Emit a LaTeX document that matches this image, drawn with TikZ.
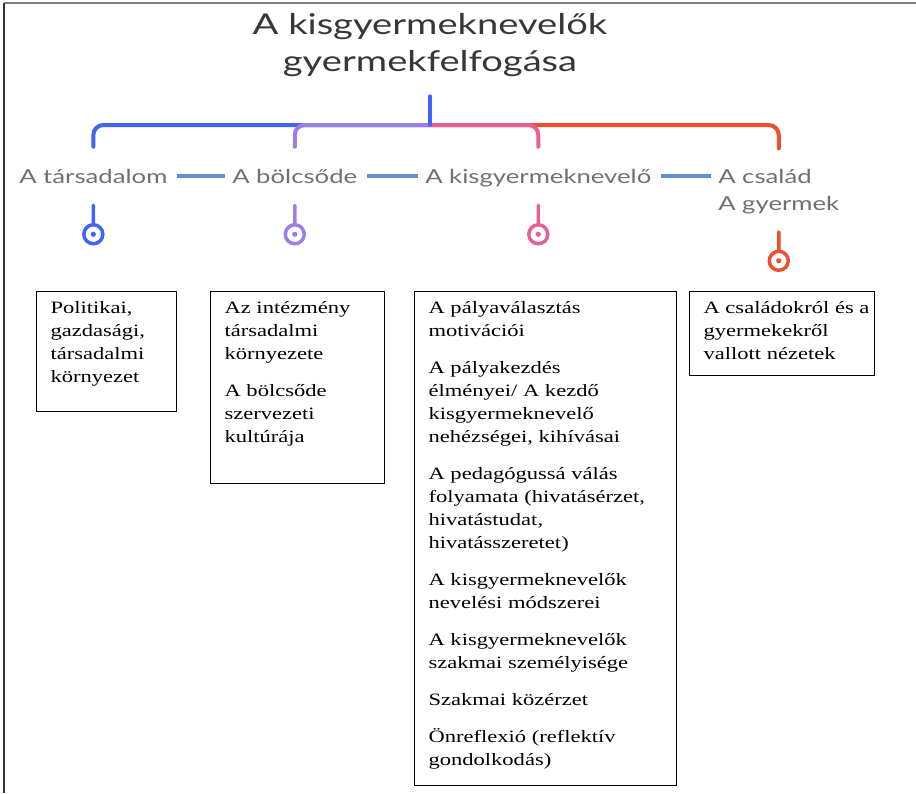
\documentclass[tikz,border=0pt]{standalone}
\usepackage{fontspec}
\setmainfont{Liberation Serif}
\newfontfamily\boxfont[FakeStretch=1.30]{Liberation Serif}
\newfontfamily\headfont[FakeStretch=1.33]{Lato}

\definecolor{treeblue}{RGB}{64,100,245}
\definecolor{treepurple}{RGB}{155,125,235}
\definecolor{treepink}{RGB}{230,95,150}
\definecolor{treered}{RGB}{238,80,45}
\definecolor{linkblue}{RGB}{98,143,208}
\definecolor{labelgray}{RGB}{112,112,112}
\definecolor{titlegray}{RGB}{55,55,55}

\newcommand{\boxcell}[3]{\parbox[t][#2][t]{#1}{\begin{tabular}[t]{@{}l@{}}#3\end{tabular}}}

\tikzset{
  branch/.style={line width=3pt, line cap=round, rounded corners=7.5pt, shorten >=13.5pt},
  trunk/.style={line width=2.4pt, line cap=round, treeblue},
  link/.style={line width=3pt, linkblue, shorten <=7pt, shorten >=5pt},
  topic/.style={font=\headfont\fontsize{14.5}{20}\selectfont, text=labelgray, inner sep=0pt, anchor=base west, text height=13.5pt, text depth=3pt},
  pinstem/.style={line width=2.6pt, line cap=round},
  box/.style={draw, line width=0.9pt, anchor=north west, inner xsep=10.5pt, inner ysep=4.5pt, font=\boxfont\fontsize{13}{17.25}\selectfont},
}

\begin{document}
\begin{tikzpicture}[x=0.75pt,y=0.75pt,yscale=-1,xscale=1]
\useasboundingbox (0,0) rectangle (916,793);

%Frame
\draw [color=gray, line width=1.5pt] (4,3) -- (916,3) ;
\draw [color=black!80, line width=1.5pt] (4,3) -- (4,793) ;

% Text Node
\node (title) [font=\headfont\fontsize{21.5}{27.75}\selectfont, text=titlegray, align=center, inner sep=0pt] at (430,45) {A kisgyermeknevelők\\gyermekfelfogása};

% Text Node
\node (tars) [topic] at (19,183) {A társadalom};
\node (bolcs) [topic] at (232,183) {A bölcsőde};
\node (kisgy) [topic] at (425,183) {A kisgyermeknevelő};
\node (csal) [font=\headfont\fontsize{14.5}{20.25}\selectfont, text=labelgray, inner sep=0pt, anchor=base west, align=left] at (718,210) {A család\\A gyermek};

%Curve Lines
\coordinate (hub) at (430,125);
\draw [branch, treeblue] (hub) -| (tars.north) ;
\draw [branch, treered, shorten >=15pt] (hub) -| (csal.north) ;
\draw [branch, treepurple] (hub) -| (bolcs.north) ;
\draw [branch, treepink] (hub) -| (kisgy.north) ;
\draw [trunk] (title.south) ++(0,19) -- (hub) ;

%Straight Lines
\draw [link] (tars.east) -- (bolcs.west) ;
\draw [link] (bolcs.east) -- (kisgy.west) ;
\draw [link] (kisgy.east) -- (kisgy.east -| csal.west) ;

%Pins
\foreach \lab/\col in {tars/treeblue, bolcs/treepurple, kisgy/treepink, csal/treered} {
  \draw [pinstem, \col] (\lab.south) ++(0,18) -- ++(0,18) ++(0,11) circle [radius=9.5] ;
  \fill [\col] (\lab.south) ++(0,47) circle [radius=2.6] ;
}

% Text Node
\node (pol) [box] at (36,291) {\boxcell{84pt}{81pt}{Politikai,\\ gazdasági,\\ társadalmi\\ környezet}};
\node (intez) [box] at (210,291) {\boxcell{109.5pt}{135pt}{Az intézmény\\ társadalmi\\ környezete\\[10.5pt] A bölcsőde\\ szervezeti\\ kultúrája}};
\node (palya) [box] at (414,291) {\boxcell{175.5pt}{361.5pt}{A pályaválasztás\\ motivációi\\[10.5pt] A pályakezdés\\ élményei/ A kezdő\\ kisgyermeknevelő\\ nehézségei, kihívásai\\[10.5pt] A pedagógussá válás\\ folyamata (hivatásérzet,\\ hivatástudat,\\ hivatásszeretet)\\[10.5pt] A kisgyermeknevelők\\ nevelési módszerei\\[10.5pt] A kisgyermeknevelők\\ szakmai személyisége\\[10.5pt] Szakmai közérzet\\[10.5pt] Önreflexió (reflektív\\ gondolkodás)}};
\node (nezet) [box] at (689,291) {\boxcell{117.75pt}{54pt}{A családokról és a\\ gyermekekről\\ vallott nézetek}};
\end{tikzpicture}
\end{document}
